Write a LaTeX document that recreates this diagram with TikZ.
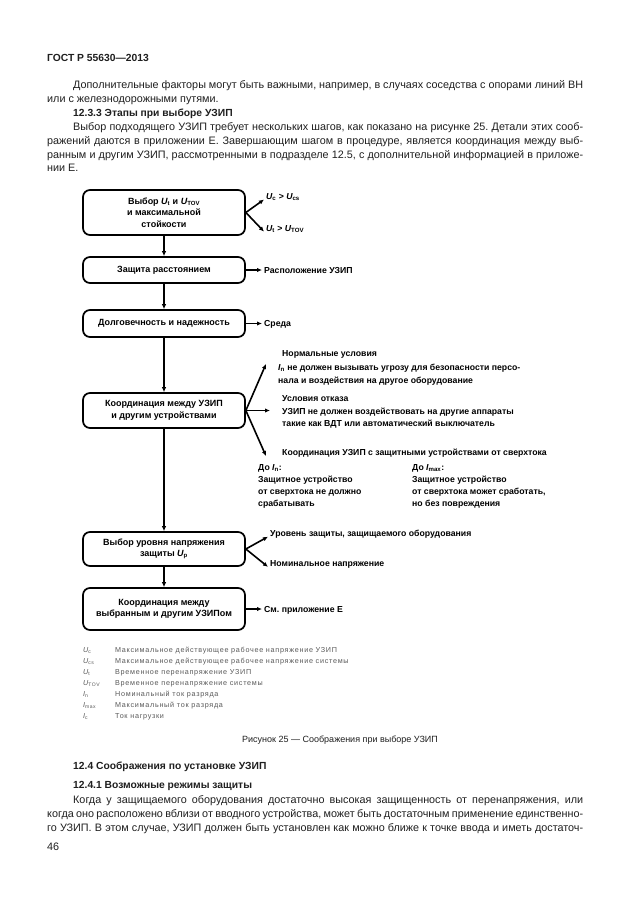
\documentclass[tikz,border=0pt]{standalone}
\usepackage{fontspec}
\setmainfont{Liberation Sans}
\newfontfamily\legendfont[LetterSpace=10]{Liberation Sans}
\usetikzlibrary{arrows.meta,positioning}

\definecolor{legendgray}{gray}{0.35}
\definecolor{textgray}{gray}{0.12}

\begin{document}
\frenchspacing
\begin{tikzpicture}[
	%	style def
    x=1pt, y=-1pt,
    stagebox/.style={draw, line width=1.7pt, rounded corners=7pt, minimum width=162pt,
        align=center, inner sep=0pt, font=\bfseries\fontsize{9}{11.5}\selectfont},
    flow line/.style={line width=1.6pt, -{Latex[length=5pt,width=4.5pt]}},
    note/.style={anchor=base west, inner sep=0pt, font=\bfseries\fontsize{8.7}{12}\selectfont},
    body/.style={anchor=base west, inner sep=0pt, text=textgray, font=\fontsize{10.8}{14}\selectfont},
    head/.style={body, font=\bfseries\fontsize{10.3}{14}\selectfont},
    legend/.style={anchor=base west, inner sep=0pt, text=legendgray, font=\legendfont\fontsize{7.2}{9}\selectfont}
    ]
    \fill[white] (0,0) rectangle (630,913);
    \useasboundingbox (0,0) rectangle (630,913);

    % page text above the figure
    \node[head] (gost) at (47,61) {ГОСТ Р 55630—2013};
    \node[body] (p1a) at (73,88) {\makebox[510pt][s]{Дополнительные факторы могут быть важными, например, в случаях соседства с опорами линий ВН}};
    \node[body] (p1b) at (47,102) {или с железнодорожными путями.};
    \node[head] (s1233) at (73,116) {12.3.3 Этапы при выборе УЗИП};
    \node[body] (p2a) at (73,130) {\makebox[510pt][s]{Выбор подходящего УЗИП требует нескольких шагов, как показано на рисунке 25. Детали этих сооб-}};
    \node[body] (p2b) at (47,144) {\makebox[536pt][s]{ражений даются в приложении Е. Завершающим шагом в процедуре, является координация между выб-}};
    \node[body] (p2c) at (47,158) {\makebox[536pt][s]{ранным и другим УЗИП, рассмотренными в подразделе 12.5, с дополнительной информацией в приложе-}};
    \node[body] (p2d) at (47,171) {нии Е.};

    % flow chart stages
    \node[stagebox, minimum height=45pt] (sel) at (164,212.5) {Выбор {\itshape U}\textsubscript{t} и {\itshape U}\textsubscript{TOV}\\и максимальной\\стойкости};
    \node[stagebox, minimum height=26pt] (dist) at (164,270) {Защита расстоянием};
    \node[stagebox, minimum height=27pt] (life) at (164,323.5) {Долговечность и надежность};
    \node[stagebox, minimum height=35pt] (coord) at (164,410.5) {Координация между УЗИП\\и другим устройствами};
    \node[stagebox, minimum height=34pt] (level) at (164,549) {Выбор уровня напряжения\\защиты {\itshape U}\textsubscript{p}};
    \node[stagebox, minimum height=42pt] (spd) at (164,609) {Координация между\\выбранным и другим УЗИПом};

    \draw[flow line] (sel) -- (dist);
    \draw[flow line] (dist) -- (life);
    \draw[flow line] (life) -- (coord);
    \draw[flow line] (coord) -- (level);
    \draw[flow line] (level) -- (spd);

    % side notes
    \node[note] (uc) at (266,199) {{\itshape U}\textsubscript{c} > {\itshape U}\textsubscript{cs}};
    \node[note] (ut) at (266,231) {{\itshape U}\textsubscript{t} > {\itshape U}\textsubscript{TOV}};
    \draw[flow line] (sel.east) -- ([xshift=-2pt,yshift=-3pt]uc.west);
    \draw[flow line] (sel.east) -- ([xshift=-2pt,yshift=-3pt]ut.west);

    \node[note] (place) at (264,273) {Расположение УЗИП};
    \draw[flow line] (dist.east) -- ([xshift=-2pt]dist.east -| place.west);
    \node[note] (env) at (264,326) {Среда};
    \draw[flow line] (life.east) -- ([xshift=-2pt]life.east -| env.west);

    % coordination with other devices
    \node[note] (norm) at (282,356) {Нормальные условия};
    \node[note] (norm1) at (278,370) {{\itshape I}\textsubscript{n} не должен вызывать угрозу для безопасности персо-};
    \node[note] (norm2) at (278,383) {нала и воздействия на другое оборудование};
    \node[note] (fail) at (282,401) {Условия отказа};
    \node[note] (fail1) at (282,414) {УЗИП не должен воздействовать на другие аппараты};
    \node[note] (fail2) at (282,426) {такие как ВДТ или автоматический выключатель};
    \node[note] (ocp) at (282,455) {Координация УЗИП с защитными устройствами от сверхтока};
    \node[note] (toin) at (258,470) {До {\itshape I}\textsubscript{n}:};
    \node[note, align=left, anchor=north west] (toin1) at (258,476) {Защитное устройство\\от сверхтока не должно\\срабатывать};
    \node[note] (toimax) at (412,470) {До {\itshape I}\textsubscript{max}:};
    \node[note, align=left, anchor=north west] (toimax1) at (412,476) {Защитное устройство\\от сверхтока может сработать,\\но без повреждения};
    \coordinate (tipa) at (266,364);
    \coordinate (tipb) at (270,410.5);
    \coordinate (tipc) at (266,456);
    \draw[flow line] (coord.east) -- (tipa);
    \draw[flow line] (coord.east) -- (tipb);
    \draw[flow line] (coord.east) -- (tipc);

    \node[note] (prot) at (270,536) {Уровень защиты, защищаемого оборудования};
    \node[note] (nom) at (270,566) {Номинальное напряжение};
    \draw[flow line] (level.east) -- ([xshift=-2pt,yshift=-3pt]prot.west);
    \draw[flow line] (level.east) -- ([xshift=-2pt,yshift=-3pt]nom.west);

    \node[note] (annex) at (264,612) {См. приложение Е};
    \draw[flow line] (spd.east) -- ([xshift=-2pt]spd.east -| annex.west);

    % legend
    \node[legend] (l1) at (83,652) {{\itshape U}\textsubscript{c}};
    \node[legend] (d1) at (115,652) {Максимальное действующее рабочее напряжение УЗИП};
    \node[legend] (l2) at (83,663) {{\itshape U}\textsubscript{cs}};
    \node[legend] (d2) at (115,663) {Максимальное действующее рабочее напряжение системы};
    \node[legend] (l3) at (83,674) {{\itshape U}\textsubscript{t}};
    \node[legend] (d3) at (115,674) {Временное перенапряжение УЗИП};
    \node[legend] (l4) at (83,685) {{\itshape U}\textsubscript{TOV}};
    \node[legend] (d4) at (115,685) {Временное перенапряжение системы};
    \node[legend] (l5) at (83,696) {{\itshape I}\textsubscript{n}};
    \node[legend] (d5) at (115,696) {Номинальный ток разряда};
    \node[legend] (l6) at (83,707) {{\itshape I}\textsubscript{max}};
    \node[legend] (d6) at (115,707) {Максимальный ток разряда};
    \node[legend] (l7) at (83,718) {{\itshape I}\textsubscript{c}};
    \node[legend] (d7) at (115,718) {Ток нагрузки};

    \node[body, anchor=base, font=\fontsize{9}{12}\selectfont] (cap) at (340,742) {Рисунок 25 — Соображения при выборе УЗИП};

    % page text below the figure
    \node[head] (s124) at (73,769) {12.4 Соображения по установке УЗИП};
    \node[head] (s1241) at (73,788) {12.4.1 Возможные режимы защиты};
    \node[body] (p3a) at (73,803) {\makebox[510pt][s]{Когда у защищаемого оборудования достаточно высокая защищенность от перенапряжения, или}};
    \node[body] (p3b) at (47,817) {\makebox[536pt][s]{когда оно расположено вблизи от вводного устройства, может быть достаточным применение единственно-}};
    \node[body] (p3c) at (47,831) {\makebox[536pt][s]{го УЗИП. В этом случае, УЗИП должен быть установлен как можно ближе к точке ввода и иметь достаточ-}};
    \node[body] (page) at (47,850) {46};

\end{tikzpicture}
\end{document}
